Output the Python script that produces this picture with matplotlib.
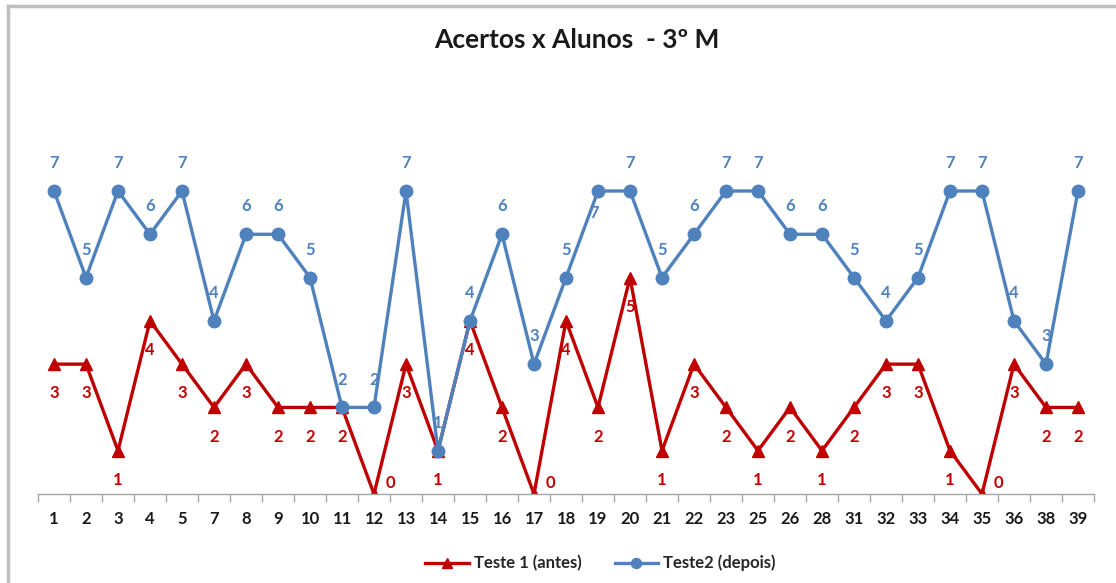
import numpy as np
import matplotlib.pyplot as plt
from matplotlib.lines import Line2D

# student numbers and number of correct answers in each test
alunos = ["1", "2", "3", "4", "5", "7", "8", "9", "10", "11", "12", "13", "14",
          "15", "16", "17", "18", "19", "20", "21", "22", "23", "25", "26", "28",
          "31", "32", "33", "34", "35", "36", "38", "39"]
teste1 = [3, 3, 1, 4, 3, 2, 3, 2, 2, 2, 0, 3, 1, 4, 2, 0, 4, 2, 5, 1, 3, 2, 1,
          2, 1, 2, 3, 3, 1, 0, 3, 2, 2]
teste2 = [7, 5, 7, 6, 7, 4, 6, 6, 5, 2, 2, 7, 1, 4, 6, 3, 5, 7, 7, 5, 6, 7, 7,
          6, 6, 5, 4, 5, 7, 7, 4, 3, 7]

RED = "#C00000"
BLUE = "#4F81BD"
plt.rcParams["font.family"] = ["Lato", "DejaVu Sans"]

fig = plt.figure(figsize=(11.16, 5.83), dpi=100)
ax = fig.add_axes([38 / 1116, 89 / 583, 1056 / 1116, 0.594])
x = np.arange(len(alunos))

ax.plot(x, teste1, color=RED, lw=2.4, marker="^", ms=9, label="Teste 1 (antes)", zorder=3)
ax.plot(x, teste2, color=BLUE, lw=2.4, marker="o", ms=9, label="Teste2 (depois)", zorder=4)

# data labels: red below the points (right of them for zeros), blue above
for xi, v in zip(x, teste1):
    off = (12, 8) if v == 0 else (0, -21)
    ax.annotate(str(v), (xi, v), xytext=off, textcoords="offset points",
                ha="center", va="center", color=RED, fontsize=12, fontweight="bold", zorder=5)
for xi, v in zip(x, teste2):
    off = (-3, -16) if alunos[xi] == "19" else (0, 20)
    ax.annotate(str(v), (xi, v), xytext=off, textcoords="offset points",
                ha="center", va="center", color=BLUE, fontsize=12, fontweight="bold", zorder=5)

ax.set_xlim(-0.5, len(alunos) - 0.5)
ax.set_ylim(0, 8)
ax.set_xticks(x)
ax.set_xticklabels(alunos, fontsize=12, fontweight="bold", color="#1a1a1a")
ax.tick_params(axis="x", which="major", length=0, pad=12)
ax.set_xticks(np.arange(-0.5, len(alunos)), minor=True)
ax.tick_params(axis="x", which="minor", length=6, width=1, color="#A6A6A6", direction="out")
ax.set_yticks([])
for s in ["top", "right", "left"]:
    ax.spines[s].set_visible(False)
ax.spines["bottom"].set_color("#A6A6A6")
ax.spines["bottom"].set_linewidth(1)
ax.spines["bottom"].set_zorder(6)

fig.text(0.517, 0.932, "Acertos x Alunos  - 3º M", ha="center", va="center",
         fontsize=19, fontweight="bold", color="#1a1a1a")

leg = fig.legend(loc="center", bbox_to_anchor=(0.538, 0.034), ncol=2, frameon=False,
                 prop={"size": 12, "weight": "bold"}, handlelength=2.6,
                 columnspacing=2.0, handletextpad=0.3, markerscale=0.8)
for t in leg.get_texts():
    t.set_color("#262626")

# outer chart border (only the top and left edges are visible)
top = 1 - 6 / 583
left = 8 / 1116
fig.add_artist(Line2D([left, 1.0], [top, top], color="#BFBFBF", lw=2.5))
fig.add_artist(Line2D([left, left], [0.0, top], color="#BFBFBF", lw=2.5))

fig.savefig("out.png", dpi=100)
